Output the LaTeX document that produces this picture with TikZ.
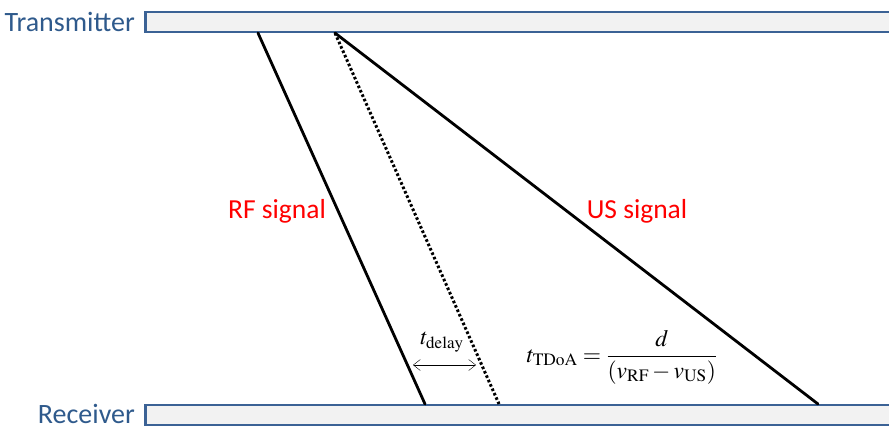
\documentclass[tikz,border=0pt]{standalone}
\usepackage{amsmath}
\usepackage{mathptmx}
\usepackage[no-math]{fontspec}
\setmainfont{Carlito}
\usetikzlibrary{positioning,arrows.meta}
\definecolor{barblue}{HTML}{3B6295}
\definecolor{barfill}{HTML}{F2F2F2}
\definecolor{textblue}{HTML}{2F5A8C}

\begin{document}
\begin{tikzpicture}[x=1pt, y=-1pt,
    bar/.style={rectangle, draw=barblue, fill=barfill, line width=2.6pt,
                minimum width=760pt, minimum height=20pt, anchor=west, inner sep=0pt},
    side/.style={font=\fontsize{28}{32}\selectfont, text=textblue, anchor=base east, inner sep=0pt},
    sig/.style={font=\fontsize{27.5}{32}\selectfont, text=red, inner sep=0pt},
    wave/.style={line width=2.8pt, line cap=round},
    delay/.style={{Straight Barb[length=7pt,width=11pt]}-{Straight Barb[length=7pt,width=11pt]}, thin}
]
\useasboundingbox (0,0) rectangle (889,429);

% bars
\node[bar] (tx) at (144,22) {};
\node[bar] (rx) at (144,415) {};
\node[side] (txlabel) at (135,31) {Transmitter};
\node[side] (rxlabel) at (135,423) {Receiver};

% signal end points
\coordinate (rfstart) at (258,33);
\coordinate (rfend) at (425,404);
\coordinate (usstart) at (335,33);
\coordinate (usend) at (818,404);
\coordinate (refend) at (499,404);

\draw[wave] (rfstart) -- (rfend);
\draw[wave] (usstart) -- (usend);
\draw[wave, line width=3pt, line cap=butt, dash pattern=on 2.6pt off 2.2pt] (usstart) -- (refend);

\node[sig] (rflabel) at (277,211) {RF signal};
\node[sig] (uslabel) at (637,211) {US signal};

% delay
\coordinate (dleft) at (413,365);
\coordinate (dright) at (476,365);
\draw[delay] (dleft) -- (dright);
\node[font=\fontsize{23}{26}\selectfont] (tdelay) at (442,342) {$t_{\mathrm{delay}}$};

\node[font=\fontsize{23.5}{28}\selectfont] (tdoa) at (622,357)
    {$t_{\mathrm{TDoA}} = \dfrac{d}{(v_{\mathrm{RF}} - v_{\mathrm{US}})}$};
\end{tikzpicture}
\end{document}
